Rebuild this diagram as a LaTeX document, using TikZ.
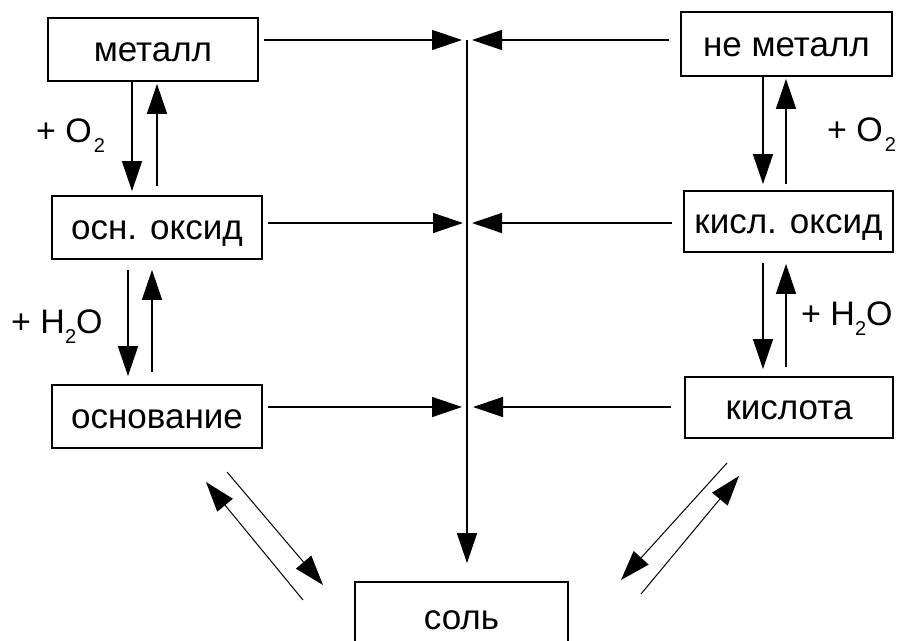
\documentclass[tikz,border=0pt]{standalone}
\usepackage{fontspec}
\setmainfont{Liberation Sans}
\usetikzlibrary{arrows.meta}
\newcommand\chemsub[1]{\raisebox{-10pt}{\fontsize{20}{20}\selectfont #1}}
\begin{document}
\begin{tikzpicture}[x=1pt,y=-1pt,
  box/.style={draw, line width=1.8pt, inner sep=0pt, anchor=center,
    text height=24pt, text depth=0pt,
    font=\fontsize{35}{40}\selectfont},
  link/.style={line width=1.4pt, -{Triangle[length=30pt,width=20pt]}},
  slant/.style={line width=1pt, -{Triangle[length=30pt,width=20pt]}},
  lbl/.style={inner sep=0pt, anchor=base west, font=\fontsize{34}{40}\selectfont}]
\useasboundingbox (0,0) rectangle (897,640);
\clip (0,0) rectangle (897,640);

% substances
\node[box, minimum width=210pt, minimum height=63pt] (metal)    at (153,49.5)  {металл};
\node[box, minimum width=211pt, minimum height=64pt] (nonmetal) at (786.5,44)  {не металл};
\node[box, minimum width=210pt, minimum height=63pt] (boxide)   at (157,227.5) {осн. оксид};
\node[box, minimum width=209pt, minimum height=61pt] (aoxide)   at (788.5,221.5) {кисл. оксид};
\node[box, minimum width=210pt, minimum height=63pt] (base)     at (157,416.5) {основание};
\node[box, minimum width=208pt, minimum height=61pt] (acid)     at (789,407.5) {кислота};
\node[box, minimum width=213pt, minimum height=70pt] (salt)     at (461.5,617) {соль};

% junctions on the central line
\coordinate (j1) at (467,40);
\coordinate (j2) at (467,223);
\coordinate (j3) at (467,407);

% horizontal feeds into the central line
\draw[link, shorten <=5pt, shorten >=5pt]  (metal.east |- j1)  -- (j1);
\draw[link, shorten <=11pt, shorten >=5pt] (nonmetal.west |- j1) -- (j1);
\draw[link, shorten <=5pt, shorten >=4pt]  (boxide.east |- j2) -- (j2);
\draw[link, shorten <=11pt, shorten >=5pt] (aoxide.west |- j2) -- (j2);
\draw[link, shorten <=5pt, shorten >=5pt]  (base.east |- j3)   -- (j3);
\draw[link, shorten <=13pt, shorten >=6pt] (acid.west |- j3)   -- (j3);

% central line down to the salt
\draw[link, shorten >=18pt] (j1) -- (j1 |- salt.north);

% left column
\draw[link, shorten >=4pt] ([xshift=-21pt]metal.south) -- ([xshift=-25pt]boxide.north);
\draw[link, shorten <=9pt, shorten >=2pt] (boxide.north) -- ([xshift=4pt]metal.south);
\draw[link, shorten <=10pt, shorten >=8pt] ([xshift=-29pt]boxide.south) -- ([xshift=-29pt]base.north);
\draw[link, shorten <=12pt, shorten >=10pt] ([xshift=-5pt]base.north) -- ([xshift=-5pt]boxide.south);

% right column
\draw[link, shorten >=6pt] ([xshift=-23.5pt]nonmetal.south) -- ([xshift=-25.5pt]aoxide.north);
\draw[link, shorten <=6pt, shorten >=2pt] ([xshift=-2.5pt]aoxide.north) -- ([xshift=-0.5pt]nonmetal.south);
\draw[link, shorten <=10pt, shorten >=7pt] ([xshift=-25.5pt]aoxide.south) -- ([xshift=-26pt]acid.north);
\draw[link, shorten <=9pt, shorten >=11pt] ([xshift=-3pt]acid.north) -- ([xshift=-2.5pt]aoxide.south);

% reagents
\node[lbl] (lo2)  at (36,142)  {+ O\kern2pt\chemsub{2}};
\node[lbl] (ro2)  at (827,141) {+ O\kern2pt\chemsub{2}};
\node[lbl] (lh2o) at (11,333)  {+ H\chemsub{2}O};
\node[lbl] (rh2o) at (801,325) {+ H\chemsub{2}O};

% base <-> salt
\coordinate (bs1) at (227,472);
\coordinate (bs2) at (323,585);
\coordinate (sb1) at (303,600);
\coordinate (sb2) at (206,482);
\draw[slant] (bs1) -- (bs2);
\draw[slant] (sb1) -- (sb2);

% acid <-> salt
\coordinate (as1) at (727,463);
\coordinate (as2) at (621,580);
\coordinate (sa1) at (641,594);
\coordinate (sa2) at (739,476);
\draw[slant] (as1) -- (as2);
\draw[slant] (sa1) -- (sa2);
\end{tikzpicture}
\end{document}
